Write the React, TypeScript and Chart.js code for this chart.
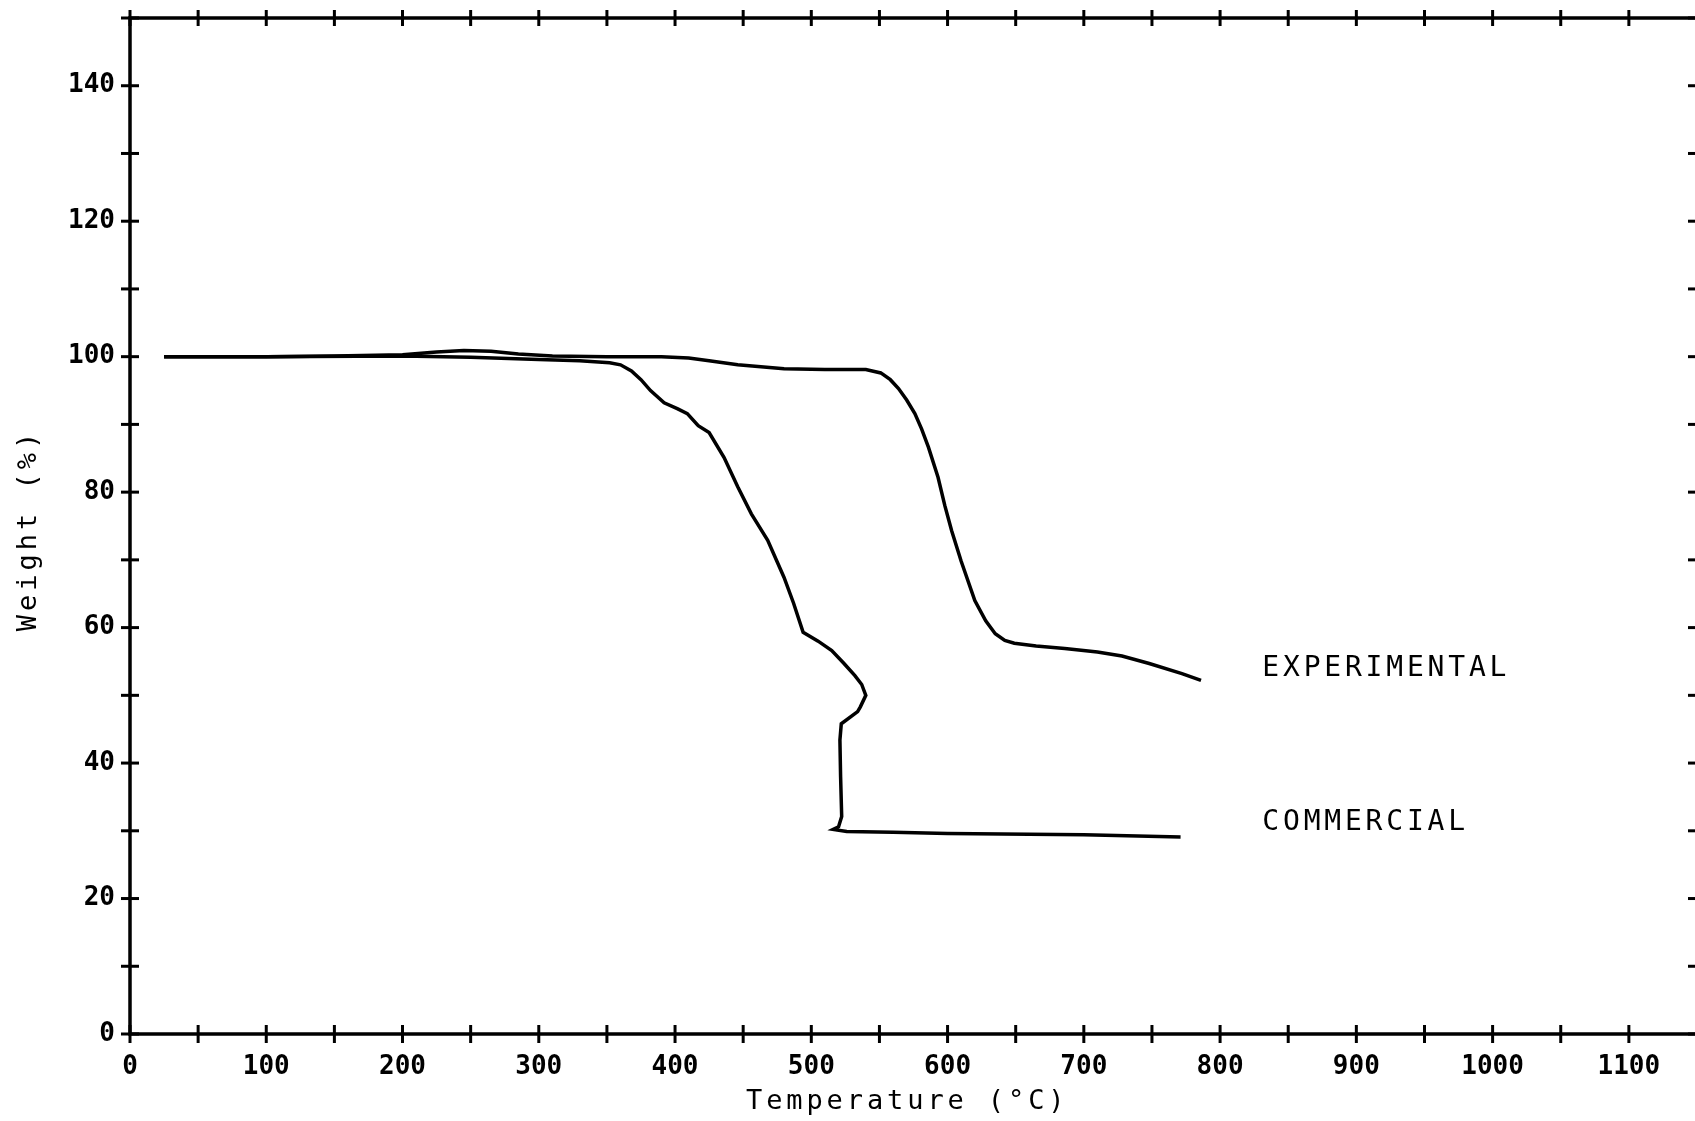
import React, { useEffect, useRef } from "react";
import { Chart, registerables } from "chart.js";

Chart.register(...registerables);

// Thermogravimetric curves: temperature (°C) against residual weight (%)
const experimentalTemp = [
  25, 100, 150, 200, 225, 245, 265, 285, 310, 350, 390, 410, 425, 446, 480, 510,
  540, 551, 558, 564, 570, 576, 581, 586, 593, 598, 603, 610, 620, 628, 635, 642,
  649, 665, 686, 710, 728, 748, 772, 786,
];
const experimentalWeight = [
  100.0, 100.0, 100.1, 100.3, 100.7, 100.9, 100.8, 100.4, 100.1, 100.0, 100.0, 99.8,
  99.4, 98.8, 98.2, 98.1, 98.1, 97.6, 96.6, 95.3, 93.6, 91.6, 89.3, 86.6, 82.2, 78.0,
  74.3, 69.8, 64.0, 61.0, 59.1, 58.1, 57.7, 57.3, 56.9, 56.4, 55.8, 54.7, 53.2, 52.2,
];

const commercialTemp = [
  25, 100, 200, 250, 300, 330, 352, 360, 368, 375, 382, 392, 402, 409, 417, 425, 436,
  446, 456, 468, 480, 487, 494, 505, 515, 524, 532, 537, 540, 536, 534, 522, 521,
  521.5, 522.3, 520, 516, 526, 560, 600, 700, 771,
];
const commercialWeight = [
  100.0, 100.0, 100.1, 99.9, 99.6, 99.4, 99.1, 98.8, 97.9, 96.6, 95.0, 93.2, 92.3,
  91.6, 89.8, 88.8, 85.1, 80.8, 76.8, 72.9, 67.4, 63.6, 59.3, 58.0, 56.6, 54.7, 52.9,
  51.6, 50.0, 48.3, 47.6, 45.8, 43.4, 38.0, 32.1, 30.6, 30.2, 29.9, 29.8, 29.6, 29.4,
  29.1,
];

const seriesNames = ["EXPERIMENTAL", "COMMERCIAL"];
// Where each curve's name is written, in data units (temperature, weight)
const seriesNameAnchors = [
  [831, 54.0],
  [831, 31.2],
];

const xTickLabels = ["0", "100", "200", "300", "400", "500", "600", "700", "800", "900", "1000", "1100"];
const yTickLabels = ["0", "20", "40", "60", "80", "100", "120", "140"];
const xAxisTitle = "Temperature (°C)";
const yAxisTitle = "Weight (%)";

const toPoints = (xs: number[], ys: number[]) => xs.map((x, i) => ({ x, y: ys[i] }));

const MONO = '"DejaVu Sans Mono", "Liberation Mono", monospace';

// Plotter-style frame: closed box with tick marks crossing every side, plus text
const plotterFrame = {
  id: "plotterFrame",
  afterDraw(chart: any) {
    const { ctx, chartArea: a, scales } = chart;
    const xs = scales.x;
    const ys = scales.y;
    ctx.save();
    ctx.strokeStyle = "#000";
    ctx.fillStyle = "#000";
    ctx.lineWidth = 3.5;
    ctx.lineCap = "butt";
    ctx.strokeRect(a.left, a.top, a.right - a.left, a.bottom - a.top);

    const seg = (x1: number, y1: number, x2: number, y2: number) => {
      ctx.beginPath();
      ctx.moveTo(x1, y1);
      ctx.lineTo(x2, y2);
      ctx.stroke();
    };
    ctx.lineWidth = 3;
    for (const t of xs.ticks) {
      const px = xs.getPixelForValue(t.value);
      seg(px, a.bottom - 9, px, a.bottom + 9);
      seg(px, a.top - 8, px, a.top + 8);
    }
    for (const t of ys.ticks) {
      const py = ys.getPixelForValue(t.value);
      seg(a.left - 9, py, a.left + 9, py);
      seg(a.right - 9, py, a.right + 9, py);
    }

    // Curve names
    ctx.font = `28px ${MONO}`;
    (ctx as any).letterSpacing = "3.8px";
    ctx.textAlign = "left";
    ctx.textBaseline = "middle";
    seriesNames.forEach((name, i) => {
      const [tx, wy] = seriesNameAnchors[i];
      ctx.fillText(name, xs.getPixelForValue(tx), ys.getPixelForValue(wy));
    });

    // Axis titles
    ctx.font = `27px ${MONO}`;
    (ctx as any).letterSpacing = "3.9px";
    ctx.textBaseline = "alphabetic";
    ctx.textAlign = "left";
    ctx.fillText(xAxisTitle, 746, 1109);

    ctx.save();
    ctx.translate(36, 530);
    ctx.rotate(-Math.PI / 2);
    ctx.textAlign = "center";
    (ctx as any).letterSpacing = "4px";
    ctx.fillText(yAxisTitle, 0, 0);
    ctx.restore();

    ctx.restore();
  },
};

export default function App() {
  const canvasRef = useRef<HTMLCanvasElement | null>(null);

  useEffect(() => {
    const canvas = canvasRef.current;
    if (!canvas) return;
    const line = {
      borderColor: "#000",
      backgroundColor: "#000",
      borderWidth: 3.5,
      pointRadius: 0,
      tension: 0,
      fill: false,
    };
    const chart = new Chart(canvas, {
      type: "line",
      data: {
        datasets: [
          { label: seriesNames[0], data: toPoints(experimentalTemp, experimentalWeight), ...line },
          { label: seriesNames[1], data: toPoints(commercialTemp, commercialWeight), ...line },
        ],
      },
      options: {
        animation: false,
        responsive: false,
        devicePixelRatio: 1,
        layout: { autoPadding: false, padding: { left: 0, top: 18, right: 13, bottom: 0 } },
        plugins: { legend: { display: false }, tooltip: { enabled: false } },
        scales: {
          x: {
            type: "linear",
            min: 0,
            max: 1150,
            afterFit: (s: any) => {
              s.height = 87;
              s.paddingLeft = 0;
              s.paddingRight = 0;
            },
            border: { display: false },
            grid: { display: false, drawTicks: false },
            ticks: {
              stepSize: 50,
              autoSkip: false,
              maxRotation: 0,
              padding: 18,
              color: "#000",
              font: { family: MONO, size: 26, weight: "bold" },
              callback: (v: any) => (xTickLabels.includes(String(v)) ? String(v) : ""),
            },
          },
          y: {
            type: "linear",
            min: 0,
            max: 150,
            afterFit: (s: any) => {
              s.width = 130;
              s.paddingTop = 0;
              s.paddingBottom = 0;
            },
            border: { display: false },
            grid: { display: false, drawTicks: false },
            ticks: {
              stepSize: 10,
              autoSkip: false,
              padding: 15,
              color: "#000",
              font: { family: MONO, size: 26, weight: "bold" },
              callback: (v: any) => (yTickLabels.includes(String(v)) ? String(v) : ""),
            },
          },
        },
      },
      plugins: [plotterFrame],
    });
    return () => chart.destroy();
  }, []);

  return (
    <div
      style={{
        position: "fixed",
        left: 0,
        top: 0,
        width: 1695,
        height: 1121,
        overflow: "hidden",
        background: "#fff",
      }}
    >
      <canvas ref={canvasRef} width={1710} height={1121} style={{ display: "block" }} />
    </div>
  );
}
